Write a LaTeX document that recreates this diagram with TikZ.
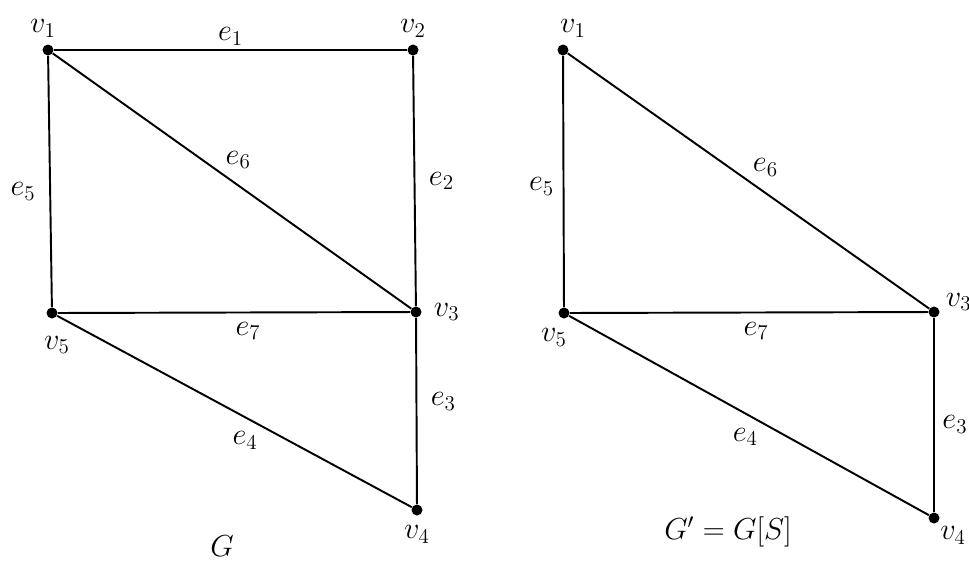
\documentclass[tikz,border=0pt]{standalone}
\usepackage{tikz}
\usetikzlibrary{positioning}
\tikzset{
  node-vertex/.style={circle,fill=black,inner sep=0pt,minimum size=2.2mm},
  edge-line/.style={line width=1.1pt,draw=black},
  edge-label/.style={font=\LARGE,inner sep=2pt},
  vertex-label/.style={font=\LARGE,inner sep=1pt},
  graph-name/.style={font=\LARGE},
}

\begin{document}
\begin{tikzpicture}[x=0.02cm,y=-0.02cm]
  \useasboundingbox (0,0) rectangle (969,562);
  % graph G
  \node[node-vertex] (a1) at (48,50) {};
  \node[node-vertex] (a2) at (413,50) {};
  \node[node-vertex] (a3) at (416,312) {};
  \node[node-vertex] (a4) at (417,510) {};
  \node[node-vertex] (a5) at (52,313) {};
  \node[vertex-label,above=1mm of a1,xshift=-1mm] (a1-lbl) {$v_1$};
  \node[vertex-label,above=1mm of a2] (a2-lbl) {$v_2$};
  \node[vertex-label,right=2mm of a3] (a3-lbl) {$v_3$};
  \node[vertex-label,below=1.5mm of a4] (a4-lbl) {$v_4$};
  \node[vertex-label,below=3mm of a5,xshift=1mm] (a5-lbl) {$v_5$};
  \draw[edge-line] (a1) -- node[edge-label,above] (a-e1) {$e_1$} (a2);
  \draw[edge-line] (a2) -- node[edge-label,right=2mm] (a-e2) {$e_2$} (a3);
  \draw[edge-line] (a3) -- node[edge-label,right=2mm,pos=0.45] (a-e3) {$e_3$} (a4);
  \draw[edge-line] (a5) -- node[edge-label,below=2mm,pos=0.53] (a-e4) {$e_4$} (a4);
  \draw[edge-line] (a1) -- node[edge-label,left=2mm,pos=0.54] (a-e5) {$e_5$} (a5);
  \draw[edge-line] (a1) -- node[edge-label,above right=0mm and 0mm,pos=0.47] (a-e6) {$e_6$} (a3);
  \draw[edge-line] (a5) -- node[edge-label,below=1mm,pos=0.54] (a-e7) {$e_7$} (a3);
  \node[graph-name] (name-G) at (222,546) {$G$};

  % subgraph G' = G[S]
  \node[node-vertex] (b1) at (563,50) {};
  \node[node-vertex] (b3) at (934,312) {};
  \node[node-vertex] (b4) at (934,518) {};
  \node[node-vertex] (b5) at (564,313) {};
  \node[vertex-label,above=1mm of b1,xshift=2mm] (b1-lbl) {$v_1$};
  \node[vertex-label,right=0.8mm of b3,yshift=2mm] (b3-lbl) {$v_3$};
  \node[vertex-label,below right=0.5mm and 0mm of b4] (b4-lbl) {$v_4$};
  \node[vertex-label,below=1.5mm of b5,xshift=-2mm] (b5-lbl) {$v_5$};
  \draw[edge-line] (b3) -- node[edge-label,right=0.8mm,pos=0.55] (b-e3) {$e_3$} (b4);
  \draw[edge-line] (b5) -- node[edge-label,below=2mm,pos=0.49] (b-e4) {$e_4$} (b4);
  \draw[edge-line] (b1) -- node[edge-label,left=1mm,pos=0.52] (b-e5) {$e_5$} (b5);
  \draw[edge-line] (b1) -- node[edge-label,above right=0mm and 0mm,pos=0.5] (b-e6) {$e_6$} (b3);
  \draw[edge-line] (b5) -- node[edge-label,below=1mm,pos=0.52] (b-e7) {$e_7$} (b3);
  \node[graph-name] (name-Gs) at (728,532) {$G' = G[S]$};
\end{tikzpicture}
\end{document}
